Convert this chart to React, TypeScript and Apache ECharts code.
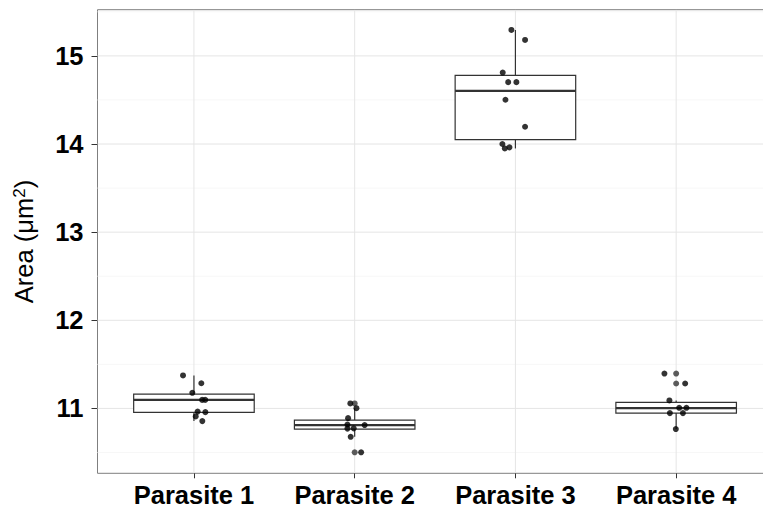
import React, { useEffect, useRef } from "react";
import * as echarts from "echarts";

const categories = ["Parasite 1", "Parasite 2", "Parasite 3", "Parasite 4"];
const boxMin = [10.856, 10.678, 13.95, 10.766];
const boxQ1 = [10.955, 10.766, 14.049, 10.947];
const boxMedian = [11.097, 10.811, 14.603, 11.003];
const boxQ3 = [11.162, 10.868, 14.778, 11.068];
const boxMax = [11.374, 11.003, 15.294, 11.091];

// outliers: category number, value
const outlierGroup = [2, 2, 4, 4];
const outlierValue = [11.057, 10.502, 11.396, 11.283];

// jittered points: category number, horizontal jitter, value
const pointGroup = [
  1, 1, 1, 1, 1, 1, 1, 1, 1,
  2, 2, 2, 2, 2, 2, 2, 2, 2,
  3, 3, 3, 3, 3, 3, 3, 3, 3, 3,
  4, 4, 4, 4, 4, 4, 4, 4,
];
const pointJitter = [
  -0.068, 0.046, -0.01, 0.051, 0.07, 0.023, 0.071, 0.011, 0.052,
  -0.027, 0.011, -0.041, -0.045, -0.045, -0.006, 0.062, -0.025, 0.04,
  -0.025, 0.06, -0.079, -0.045, 0.006, -0.062, 0.06, -0.081, -0.066, -0.037,
  -0.073, 0.056, -0.042, 0.019, 0.064, -0.039, 0.042, -0.002,
];
const pointValue = [
  11.374, 11.286, 11.177, 11.097, 11.097, 10.964, 10.958, 10.909, 10.856,
  11.057, 11.003, 10.89, 10.817, 10.771, 10.774, 10.811, 10.678, 10.502,
  15.294, 15.181, 14.811, 14.702, 14.702, 14.502, 14.196, 14.0, 13.95, 13.962,
  11.396, 11.283, 11.091, 11.007, 11.007, 10.947, 10.947, 10.766,
];

const yTicks = [11, 12, 13, 14, 15];
const yMinor = [10.5, 11.5, 12.5, 13.5, 14.5, 15.5];
const xTicks = [1, 2, 3, 4];
const yMin = 10.264;
const yMax = 15.524;
const xMin = 0.4;
const xMax = 4.6;

export default function App() {
  const ref = useRef<HTMLDivElement>(null);
  useEffect(() => {
    if (!ref.current) return;
    const chart = echarts.init(ref.current, null, { renderer: "svg" });

    const gridData: number[][] = [
      ...yMinor.map((v) => [xMin, v, 0]),
      ...yTicks.map((v) => [xMin, v, 1]),
      ...xTicks.map((c) => [c, yMin, 2]),
    ];

    const boxData = categories.map((_, i) => [
      i + 1,
      boxMin[i],
      boxQ1[i],
      boxMedian[i],
      boxQ3[i],
      boxMax[i],
    ]);

    const pts = pointValue.map((v, i) => [pointGroup[i] + pointJitter[i], v]);
    const outs = outlierValue.map((v, i) => [outlierGroup[i], v]);

    const font = "'Liberation Sans', Arial, Helvetica, sans-serif";

    chart.setOption({
      animation: false,
      backgroundColor: "#ffffff",
      grid: {
        left: 97.5,
        right: 17.4,
        top: 9.7,
        bottom: 39.7,
        show: true,
        borderColor: "#7f7f7f",
        borderWidth: 1,
        backgroundColor: "#ffffff",
      },
      xAxis: {
        type: "value",
        min: xMin,
        max: xMax,
        splitLine: { show: false },
        axisLine: { show: false },
        axisTick: {
          show: true,
          customValues: xTicks,
          length: 5,
          lineStyle: { color: "#333333", width: 1 },
        },
        axisLabel: {
          customValues: xTicks,
          formatter: (v: number) => categories[Math.round(v) - 1] ?? "",
          fontSize: 25.5,
          fontWeight: "bold",
          fontFamily: font,
          color: "#000000",
          margin: 9,
        },
      },
      yAxis: {
        type: "value",
        min: yMin,
        max: yMax,
        splitLine: { show: false },
        axisLine: { show: false },
        axisTick: {
          show: true,
          customValues: yTicks,
          length: 6,
          lineStyle: { color: "#333333", width: 1 },
        },
        axisLabel: {
          customValues: yTicks,
          fontSize: 25.5,
          fontWeight: "bold",
          fontFamily: font,
          color: "#000000",
          margin: 14,
        },
        name: "{a|Area (μm}{s|2}{a|)}",
        nameLocation: "middle",
        nameRotate: 90,
        nameGap: 60,
        nameTextStyle: {
          fontSize: 25.5,
          fontFamily: font,
          color: "#000000",
          rich: {
            a: { fontSize: 25.5, fontFamily: font, color: "#000000" },
            s: {
              fontSize: 17,
              fontFamily: font,
              color: "#000000",
              verticalAlign: "top",
              padding: [0, 0, 10, 0],
            },
          },
        },
      },
      series: [
        {
          type: "custom",
          silent: true,
          z: 1,
          clip: true,
          data: gridData,
          renderItem: (params: any, api: any) => {
            const kind = api.value(2);
            if (kind === 2) {
              const c = api.value(0);
              const p1 = api.coord([c, yMin]);
              const p2 = api.coord([c, yMax]);
              return {
                type: "line",
                shape: { x1: p1[0], y1: p1[1], x2: p2[0], y2: p2[1] },
                style: { stroke: "#e5e5e5", lineWidth: 1 },
              };
            }
            const v = api.value(1);
            const p1 = api.coord([xMin, v]);
            const p2 = api.coord([xMax, v]);
            return {
              type: "line",
              shape: { x1: p1[0], y1: p1[1], x2: p2[0], y2: p2[1] },
              style: {
                stroke: kind === 1 ? "#e5e5e5" : "#f7f7f7",
                lineWidth: 1,
              },
            };
          },
        },
        {
          type: "custom",
          silent: true,
          z: 2,
          data: boxData,
          renderItem: (params: any, api: any) => {
            const x = api.value(0);
            const half = api.size([0.75, 0])[0] / 2;
            const cx = api.coord([x, 0])[0];
            const yMn = api.coord([x, api.value(1)])[1];
            const yQ1 = api.coord([x, api.value(2)])[1];
            const yMd = api.coord([x, api.value(3)])[1];
            const yQ3 = api.coord([x, api.value(4)])[1];
            const yMx = api.coord([x, api.value(5)])[1];
            const stroke = "#333333";
            return {
              type: "group",
              children: [
                {
                  type: "line",
                  shape: { x1: cx, y1: yQ3, x2: cx, y2: yMx },
                  style: { stroke, lineWidth: 1.2 },
                },
                {
                  type: "line",
                  shape: { x1: cx, y1: yQ1, x2: cx, y2: yMn },
                  style: { stroke, lineWidth: 1.2 },
                },
                {
                  type: "rect",
                  shape: { x: cx - half, y: yQ3, width: half * 2, height: yQ1 - yQ3 },
                  style: { fill: "#ffffff", stroke, lineWidth: 1.2 },
                },
                {
                  type: "line",
                  shape: { x1: cx - half, y1: yMd, x2: cx + half, y2: yMd },
                  style: { stroke, lineWidth: 2.4 },
                },
              ],
            };
          },
        },
        {
          type: "scatter",
          silent: true,
          z: 3,
          data: outs,
          symbol: "circle",
          symbolSize: 6,
          itemStyle: { color: "#333333" },
        },
        {
          type: "scatter",
          silent: true,
          z: 4,
          data: pts,
          symbol: "circle",
          symbolSize: 6,
          itemStyle: { color: "#000000" },
        },
      ],
    });
    return () => chart.dispose();
  }, []);

  return (
    <div
      style={{
        position: "fixed",
        left: 0,
        top: 0,
        width: 763,
        height: 513,
        overflow: "hidden",
        background: "#ffffff",
      }}
    >
      <div ref={ref} style={{ width: 790, height: 513 }} />
    </div>
  );
}
